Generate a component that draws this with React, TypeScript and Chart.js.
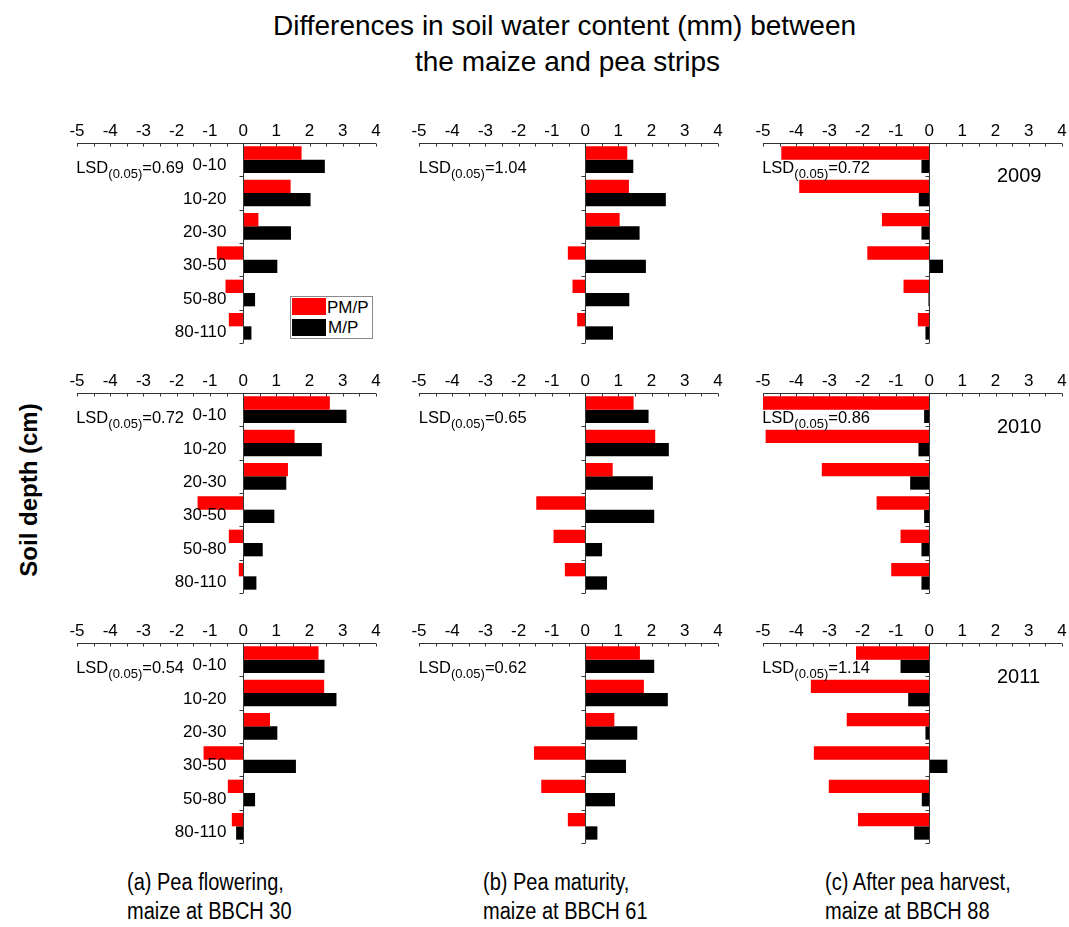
import React, { useEffect, useRef } from 'react';
import { Chart, registerables } from 'chart.js';

Chart.register(...registerables);

// ---------- data ----------
const depthLabels = ['0-10', '10-20', '20-30', '30-50', '50-80', '80-110'];
const seriesNames = ['PM/P', 'M/P'];
const years = ['2009', '2010', '2011'];
const stageCaptions = [
  ['(a) Pea flowering,', 'maize at BBCH 30'],
  ['(b) Pea maturity,', 'maize at BBCH 61'],
  ['(c) After pea harvest,', 'maize at BBCH 88'],
];
const xMin = -5;
const xMax = 4;

// 2009
const pmA2009 = [1.76, 1.43, 0.46, -0.79, -0.53, -0.43];
const mA2009 = [2.46, 2.03, 1.44, 1.03, 0.36, 0.25];
const pmB2009 = [1.27, 1.32, 1.04, -0.52, -0.38, -0.24];
const mB2009 = [1.45, 2.43, 1.64, 1.83, 1.33, 0.84];
const pmC2009 = [-4.45, -3.91, -1.42, -1.86, -0.77, -0.34];
const mC2009 = [-0.23, -0.31, -0.23, 0.42, -0.02, -0.11];
// 2010
const pmA2010 = [2.61, 1.55, 1.35, -1.37, -0.43, -0.13];
const mA2010 = [3.11, 2.37, 1.3, 0.94, 0.59, 0.4];
const pmB2010 = [1.46, 2.11, 0.83, -1.47, -0.95, -0.61];
const mB2010 = [1.91, 2.52, 2.04, 2.08, 0.51, 0.66];
const pmC2010 = [-5.0, -4.92, -3.23, -1.58, -0.86, -1.14];
const mC2010 = [-0.15, -0.32, -0.57, -0.15, -0.23, -0.23];
// 2011
const pmA2011 = [2.27, 2.44, 0.81, -1.19, -0.46, -0.34];
const mA2011 = [2.45, 2.81, 1.03, 1.59, 0.36, -0.21];
const pmB2011 = [1.65, 1.77, 0.88, -1.54, -1.32, -0.52];
const mB2011 = [2.08, 2.49, 1.57, 1.23, 0.9, 0.37];
const pmC2011 = [-2.2, -3.56, -2.48, -3.47, -3.02, -2.14];
const mC2011 = [-0.86, -0.63, -0.11, 0.55, -0.22, -0.45];

const lsdA = ['0.69', '0.72', '0.54'];
const lsdB = ['1.04', '0.65', '0.62'];
const lsdC = ['0.72', '0.86', '1.14'];

// ---------- layout / style ----------
const FONT = '"Liberation Sans", Arial, Helvetica, sans-serif';
const AXIS = '#333333';
const RED = '#ff0000';
const BLACK = '#000000';
const COL_X = [76.7, 419.3, 762.7];
const ROW_Y = [142.7, 393.3, 643.3];
const PW = 299;
const PH = 200;
const PAD_X = 25;
const AXIS_H = 40;
const PAD_B = 12;

const decor = {
  id: 'decor',
  afterDatasetsDraw(chart: any, _args: any, opts: any) {
    const { ctx, chartArea, scales } = chart;
    const xs = scales.x;
    const ys = scales.y;
    const x0 = Math.round(xs.getPixelForValue(0)) + 0.5;
    const top = Math.round(chartArea.top) + 0.5;
    ctx.save();
    ctx.strokeStyle = AXIS;
    ctx.lineWidth = 1;
    ctx.beginPath();
    ctx.moveTo(chartArea.left, top);
    ctx.lineTo(chartArea.right, top);
    for (let v = xMin; v <= xMax + 1e-9; v += 0.5) {
      const px = Math.round(xs.getPixelForValue(v)) + 0.5;
      ctx.moveTo(px, top);
      ctx.lineTo(px, top + 3);
    }
    ctx.moveTo(x0, top);
    ctx.lineTo(x0, chartArea.bottom);
    for (let i = 0; i < depthLabels.length; i++) {
      const yy = Math.round(ys.getPixelForValue(i + 0.5)) + 0.5;
      ctx.moveTo(x0 - 4, yy);
      ctx.lineTo(x0, yy);
    }
    ctx.stroke();
    if (opts && opts.showLabels) {
      ctx.fillStyle = '#000';
      ctx.font = `17px ${FONT}`;
      ctx.textAlign = 'right';
      ctx.textBaseline = 'middle';
      depthLabels.forEach((l, i) => {
        ctx.fillText(l, x0 - 17, ys.getPixelForValue(i) + 6);
      });
    }
    ctx.restore();
  },
};

type PanelProps = { pm: number[]; m: number[]; showLabels: boolean; left: number; top: number };

function Panel({ pm, m, showLabels, left, top }: PanelProps) {
  const ref = useRef<HTMLCanvasElement>(null);
  useEffect(() => {
    const chart = new Chart(ref.current as HTMLCanvasElement, {
      type: 'bar',
      data: {
        labels: depthLabels,
        datasets: [
          { label: seriesNames[0], data: pm, backgroundColor: RED, borderWidth: 0, categoryPercentage: 0.8, barPercentage: 1 },
          { label: seriesNames[1], data: m, backgroundColor: BLACK, borderWidth: 0, categoryPercentage: 0.8, barPercentage: 1 },
        ],
      },
      options: {
        indexAxis: 'y',
        animation: false,
        responsive: false,
        layout: { padding: { left: PAD_X, right: PAD_X, top: 0, bottom: PAD_B } },
        plugins: {
          legend: { display: false },
          tooltip: { enabled: false },
          decor: { showLabels },
        } as any,
        scales: {
          x: {
            type: 'linear',
            position: 'top',
            min: xMin,
            max: xMax,
            ticks: {
              stepSize: 1,
              color: '#000',
              font: { family: FONT, size: 17 },
              padding: 1,
              maxRotation: 0,
              autoSkip: false,
            },
            grid: { display: false, drawTicks: false },
            border: { display: false },
            afterFit: (s: any) => {
              s.height = AXIS_H;
            },
          },
          y: { display: false },
        },
      },
      plugins: [decor],
    });
    return () => chart.destroy();
  }, []);
  const w = PW + 2 * PAD_X;
  const h = AXIS_H + PH + PAD_B;
  return (
    <canvas
      ref={ref}
      width={w}
      height={h}
      style={{ position: 'absolute', left: left - PAD_X, top: top - AXIS_H, width: w, height: h }}
    />
  );
}

const abs = (extra: React.CSSProperties): React.CSSProperties => ({
  position: 'absolute',
  whiteSpace: 'nowrap',
  fontFamily: FONT,
  color: '#000',
  ...extra,
});

export default function App() {
  const grid = [
    [pmA2009, mA2009, pmB2009, mB2009, pmC2009, mC2009],
    [pmA2010, mA2010, pmB2010, mB2010, pmC2010, mC2010],
    [pmA2011, mA2011, pmB2011, mB2011, pmC2011, mC2011],
  ];
  const lsd = [lsdA, lsdB, lsdC];
  const captionLeft = [127, 483, 825];
  return (
    <div style={{ position: 'absolute', left: 0, top: 0, width: 1069, height: 927, background: '#fff', overflow: 'hidden' }}>
      <div style={abs({ left: 273, top: 8, fontSize: 28, lineHeight: '36px' })}>
        Differences in soil water content (mm) between
      </div>
      <div style={abs({ left: 415, top: 44, fontSize: 28, lineHeight: '36px' })}>the maize and pea strips</div>
      <div
        style={abs({
          left: 29,
          top: 490,
          fontSize: 24,
          fontWeight: 'bold',
          lineHeight: '28px',
          transform: 'translate(-50%, -50%) rotate(-90deg)',
        })}
      >
        Soil depth (cm)
      </div>

      {ROW_Y.map((ry, r) =>
        COL_X.map((cx, c) => (
          <Panel
            key={`${r}-${c}`}
            pm={grid[r][c * 2]}
            m={grid[r][c * 2 + 1]}
            showLabels={c === 0}
            left={cx}
            top={ry}
          />
        ))
      )}

      {ROW_Y.map((ry, r) =>
        COL_X.map((cx, c) => (
          <div key={`lsd-${r}-${c}`} style={abs({ left: cx - 0.5, top: ry + 16, fontSize: 16.5, lineHeight: '17px' })}>
            LSD
            <span style={{ fontSize: 13, position: 'relative', top: 5 }}>(0.05)</span>={lsd[c][r]}
          </div>
        ))
      )}

      {ROW_Y.map((ry, r) => (
        <div key={`yr-${r}`} style={abs({ left: 997, top: ry + 22.5, fontSize: 20, lineHeight: '20px' })}>
          {years[r]}
        </div>
      ))}

      <div
        style={{
          position: 'absolute',
          left: 290,
          top: 296,
          width: 83,
          height: 43,
          border: '1px solid #888',
          boxSizing: 'border-box',
          background: '#fff',
        }}
      >
        <div style={{ position: 'absolute', left: 1, top: 1, width: 34, height: 17, background: RED }} />
        <div style={{ position: 'absolute', left: 1, top: 22, width: 34, height: 17, background: BLACK }} />
        <div style={abs({ left: 36, top: 1.5, fontSize: 17, lineHeight: '17px' })}>{seriesNames[0]}</div>
        <div style={abs({ left: 37, top: 22, fontSize: 17, lineHeight: '17px' })}>{seriesNames[1]}</div>
      </div>

      {stageCaptions.map((cap, i) => (
        <div
          key={`cap-${i}`}
          style={abs({
            left: captionLeft[i],
            top: 868,
            fontSize: 23,
            lineHeight: '29px',
            transform: 'scaleX(0.87)',
            transformOrigin: 'left top',
          })}
        >
          {cap[0]}
          <br />
          {cap[1]}
        </div>
      ))}
    </div>
  );
}
